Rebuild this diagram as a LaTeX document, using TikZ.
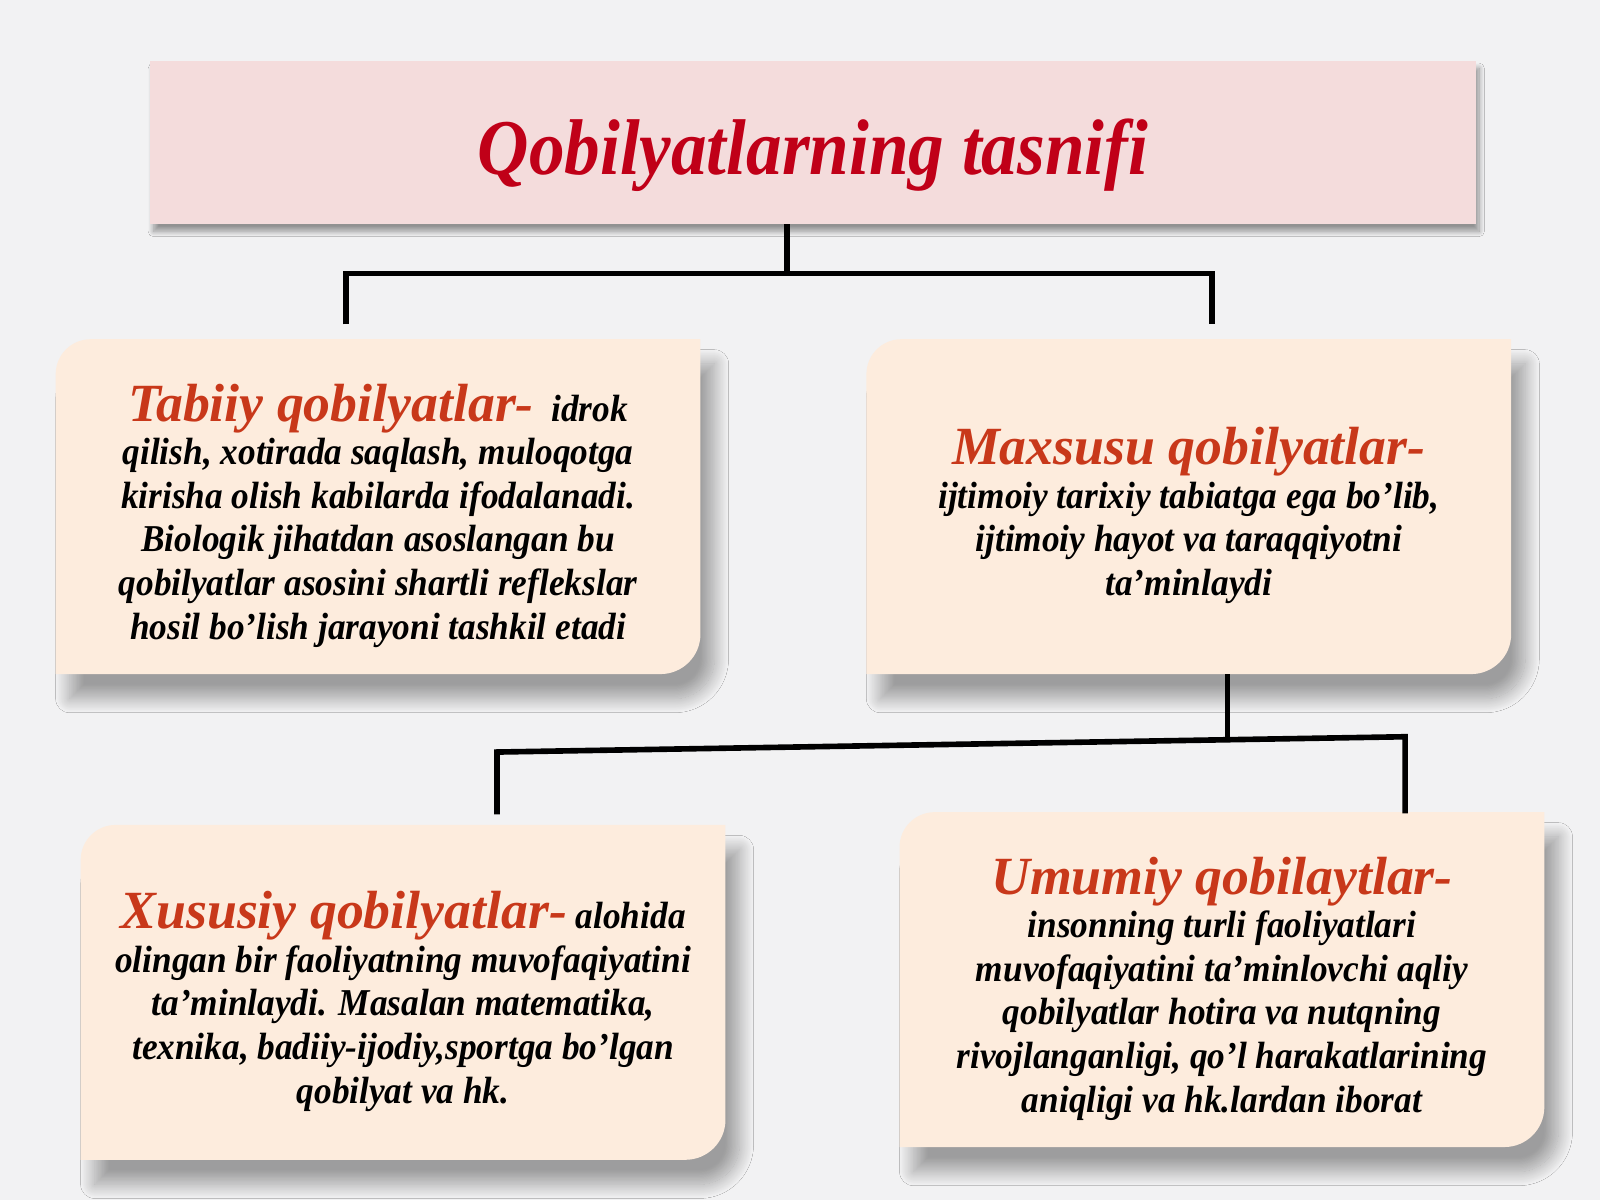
\documentclass[tikz,border=0pt]{standalone}
\usepackage{fontspec}
\setmainfont{Liberation Serif}
\newfontfamily\narrowserif[FakeStretch=0.9]{Liberation Serif}
\newfontfamily\bodyserif[FakeStretch=0.93]{Liberation Serif}
\newfontfamily\headserif{Liberation Serif}
\usetikzlibrary{positioning,shadows.blur,backgrounds}

\definecolor{pagebg}{HTML}{F2F2F3}
\definecolor{titlefill}{HTML}{F4DCDC}
\definecolor{titlered}{HTML}{C00018}
\definecolor{headred}{HTML}{C8381A}
\definecolor{boxfill}{HTML}{FDECDD}

\tikzset{
  titlebox/.style={fill=titlefill, minimum width=13.26cm, minimum height=1.63cm,
    inner sep=0pt, outer sep=0pt, text=titlered, text height=18pt, text depth=0pt,
    font=\narrowserif\bfseries\itshape\fontsize{22.5}{26}\selectfont,
    blur shadow={shadow xshift=1pt, shadow yshift=-2pt, shadow blur radius=1.5pt,
      shadow blur steps=12, shadow opacity=40}},
  qobbox/.style={minimum width=6.45cm, minimum height=3.35cm, inner sep=0pt, outer sep=0pt},
  qobtext/.style={inner sep=0pt, align=center, yshift=-0.09cm,
    font=\bodyserif\bfseries\itshape\fontsize{10.8}{12.4}\selectfont},
  link/.style={line width=1.6pt, black, line join=miter},
}
\newcommand{\qhead}[1]{{\headserif\fontsize{15.3}{15.3}\selectfont\color{headred}#1}}
% box with round top left and bottom right corners
\newcommand{\qobshape}[1]{%
  \fill[boxfill, blur shadow={shadow xshift=4pt, shadow yshift=-7pt, shadow blur radius=4pt,
      shadow blur steps=25, shadow opacity=35}]
    ([xshift=0.35cm]#1.north west) -- (#1.north east) -- ([yshift=0.4cm]#1.south east)
    arc[start angle=0, end angle=-90, radius=0.4cm] -- (#1.south west)
    -- ([yshift=-0.35cm]#1.north west) arc[start angle=180, end angle=90, radius=0.35cm] -- cycle;}

\begin{document}
\begin{tikzpicture}[x=0.010204cm, y=0.010204cm]
\useasboundingbox (0,0) rectangle (1568,1176);

\node[titlebox] (title) at (796.5,1036) {Qobilyatlarning tasnifi};

\node[qobbox] (tabiiy) at (370.5,679.5) {};
\node[qobbox] (maxsus) at (1165,679.5) {};
\node[qobbox] (xususiy) at (395,203.5) {};
\node[qobbox] (umumiy) at (1197.5,216) {};

\node[qobtext] (tabiiytxt) at (tabiiy) {\qhead{Tabiiy qobilyatlar-}\ \ idrok\\
  qilish, xotirada saqlash, muloqotga\\
  kirisha olish kabilarda ifodalanadi.\\
  Biologik jihatdan asoslangan bu\\
  qobilyatlar asosini shartli reflekslar\\
  hosil bo’lish jarayoni tashkil etadi};
\node[qobtext] (maxsustxt) at (maxsus) {\qhead{Maxsusu qobilyatlar-}\\
  ijtimoiy tarixiy tabiatga ega bo’lib,\\
  ijtimoiy hayot va taraqqiyotni\\
  ta’minlaydi};
\node[qobtext] (xususiytxt) at (xususiy) {\qhead{Xususiy qobilyatlar-} alohida\\
  olingan bir faoliyatning muvofaqiyatini\\
  ta’minlaydi. Masalan matematika,\\
  texnika, badiiy-ijodiy,sportga bo’lgan\\
  qobilyat va hk.};
\node[qobtext] (umumiytxt) at (umumiy) {\qhead{Umumiy qobilaytlar-}\\
  insonning turli faoliyatlari\\
  muvofaqiyatini ta’minlovchi aqliy\\
  qobilyatlar hotira va nutqning\\
  rivojlanganligi, qo’l harakatlarining\\
  aniqligi va hk.lardan iborat};

% connectors
\coordinate (j1) at (771,908);
\coordinate (l1) at (339,858);
\coordinate (r1) at (1188,858);
\draw[link] (title.south -| j1) -- (j1);
\draw[link] (l1) -- (l1 |- j1) -- (r1 |- j1) -- (r1);

\coordinate (j2) at (1203,454);
\coordinate (l2) at (487,378);
\coordinate (l2t) at (487,439);
\coordinate (r2) at (1377,379);
\draw[link] (maxsus.south -| j2) -- (j2);
\draw[link] (l2) -- (l2t) -- (r2 |- j2) -- (r2);

\begin{pgfonlayer}{background}
  \fill[pagebg] (0,0) rectangle (1568,1176);
  \qobshape{tabiiy}
  \qobshape{maxsus}
  \qobshape{xususiy}
  \qobshape{umumiy}
\end{pgfonlayer}
\end{tikzpicture}
\end{document}
